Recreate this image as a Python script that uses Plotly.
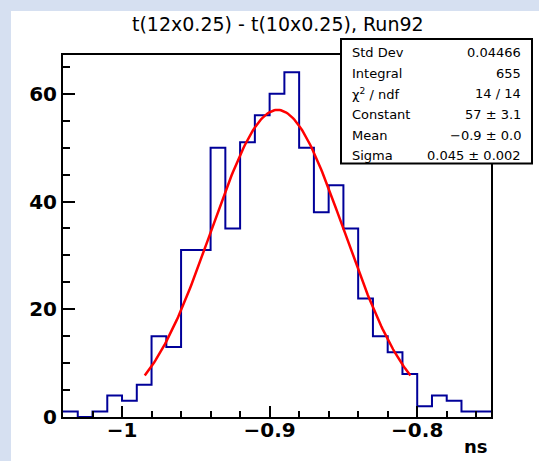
import numpy as np
import plotly.graph_objects as go

# Canvas and frame geometry (pixels)
W, H = 539, 461
L, R, T, B = 63, 48, 55, 44

# Histogram: fixed-width bins starting at bin_low
bin_low = -1.04
bin_width = 0.01
counts = [1, 0, 1, 4, 3, 6, 15, 13, 31, 31, 50, 35, 51, 56, 60, 64,
          50, 38, 43, 35, 22, 15, 12, 8, 2, 4, 3, 1, 1]

# Gaussian fit results
fit_constant, fit_constant_err = 57.0, 3.1
fit_mean, fit_mean_err = -0.8946, 0.0012
fit_sigma, fit_sigma_err = 0.045, 0.002
chi2, ndf = 14, 14
std_dev = 0.04466

x_range = [-1.04, -0.75]
y_range = [0, 67.2]
x_ticks = [-1.0, -0.9, -0.8]
x_tick_text = ["−1", "−0.9", "−0.8"]
y_ticks = [0, 20, 40, 60]
y_tick_text = ["0", "20", "40", "60"]

title_text = "t(12x0.25) - t(10x0.25), Run92"
x_title = "ns"

FONT = "DejaVu Sans"


def px_x(p):
    return (p - L) / (W - L - R)


def px_y(p):
    return (H - B - p) / (H - T - B)


def signed(v, fmt):
    return format(v, fmt).replace("-", "−")


n_bins = len(counts)
edges = bin_low + bin_width * np.arange(n_bins + 1)
step_x = list(edges[:-1]) + [edges[-1]]
step_y = list(counts) + [counts[-1]]

fit_x = np.linspace(fit_mean - 2 * fit_sigma, fit_mean + 2 * fit_sigma, 200)
fit_y = fit_constant * np.exp(-0.5 * ((fit_x - fit_mean) / fit_sigma) ** 2)

fig = go.Figure()
fig.add_trace(go.Scatter(x=step_x, y=step_y, mode="lines", line_shape="hv",
                         line=dict(color="#000099", width=2), hoverinfo="skip"))
fig.add_trace(go.Scatter(x=fit_x, y=fit_y, mode="lines",
                         line=dict(color="#ff0000", width=2.5), hoverinfo="skip"))

axis_common = dict(showline=True, linecolor="black", linewidth=2, mirror=True,
                   showgrid=False, zeroline=False, ticks="inside",
                   tickcolor="black", tickwidth=2,
                   tickfont=dict(family=FONT, size=20, color="black", weight="bold"))

fig.update_xaxes(range=x_range, tickvals=x_ticks, ticktext=x_tick_text,
                 ticklen=11, ticklabelstandoff=-6,
                 minor=dict(ticks="inside", tick0=-1.0, dtick=0.02, ticklen=6,
                            tickcolor="black", tickwidth=1.5),
                 **axis_common)
fig.update_yaxes(range=y_range, tickvals=y_ticks, ticktext=y_tick_text,
                 ticklen=12,
                 minor=dict(ticks="inside", tick0=0, dtick=5, ticklen=7,
                            tickcolor="black", tickwidth=2),
                 **axis_common)

shapes = [
    # white canvas over the light-blue surround
    dict(type="rect", xref="paper", yref="paper", x0=px_x(11), x1=px_x(W + 5),
         y0=px_y(H + 5), y1=px_y(11), fillcolor="white", line=dict(width=0),
         layer="below"),
    # statistics box
    dict(type="rect", xref="paper", yref="paper", x0=px_x(341), x1=px_x(532),
         y0=px_y(163.5), y1=px_y(39), fillcolor="white",
         line=dict(color="black", width=2), layer="above"),
]

stat_labels = ["Std Dev", "Integral", "χ<sup>2</sup> / ndf", "Constant", "Mean", "Sigma"]
stat_values = [
    f"{std_dev:.5f}",
    f"{sum(counts)}",
    f"{chi2} / {ndf}",
    f"{fit_constant:.0f} ± {fit_constant_err:.1f}",
    f"{signed(fit_mean, '.1f')} ± {fit_mean_err:.1f}",
    f"{fit_sigma:.3f} ± {fit_sigma_err:.3f}",
]
row_y = [52.3, 73.0, 93.8, 114.5, 135.3, 155.5]

annotations = [
    dict(text=title_text, xref="paper", yref="paper", x=px_x(277.5), y=px_y(24),
         xanchor="center", yanchor="middle", showarrow=False,
         font=dict(family=FONT, size=19, color="black")),
    dict(text=x_title, xref="paper", yref="paper", x=px_x(490), y=px_y(446),
         xanchor="right", yanchor="middle", showarrow=False,
         font=dict(family=FONT, size=18, color="black", weight="bold")),
]
for lab, val, yy in zip(stat_labels, stat_values, row_y):
    annotations.append(dict(text=lab, xref="paper", yref="paper", x=px_x(350),
                            y=px_y(yy), xanchor="left", yanchor="middle",
                            showarrow=False,
                            font=dict(family=FONT, size=13, color="black")))
    annotations.append(dict(text=val, xref="paper", yref="paper", x=px_x(523),
                            y=px_y(yy), xanchor="right", yanchor="middle",
                            showarrow=False,
                            font=dict(family=FONT, size=13, color="black")))

fig.update_layout(width=W, height=H, margin=dict(l=L, r=R, t=T, b=B),
                  paper_bgcolor="#d6e0f1", plot_bgcolor="white",
                  showlegend=False, shapes=shapes, annotations=annotations)

fig.write_html("out.html")
